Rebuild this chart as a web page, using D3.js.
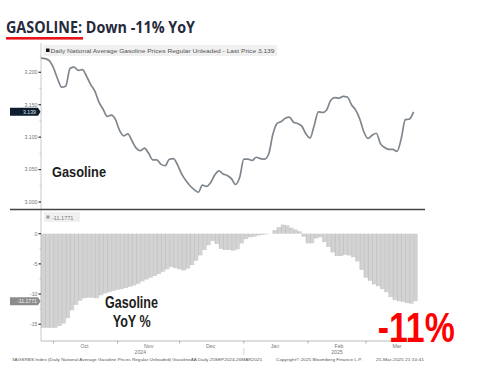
<!DOCTYPE html>
<meta charset="utf-8">
<title>Gasoline: Down -11% YoY</title>
<script src="https://d3js.org/d3.v7.min.js"></script>
<style>
  body { margin: 0; background: #fff; }
  text { font-family: "Liberation Sans", Arial, sans-serif; }
</style>
<div id="chart"></div>
<script>

// price series, one reading every 2 days from 25 Sep 2024
var firstDay = "2024-09-25";
var stepDays = 2;
var price = [
  3.222, 3.221, 3.218, 3.207, 3.190, 3.177, 3.179, 3.206, 3.208, 3.203,
  3.204, 3.194, 3.181, 3.171, 3.154, 3.143, 3.132, 3.134, 3.127, 3.110,
  3.102, 3.105, 3.094, 3.083, 3.079, 3.083, 3.075, 3.065, 3.065, 3.058,
  3.056, 3.066, 3.067, 3.057, 3.043, 3.033, 3.025, 3.019, 3.015, 3.026,
  3.024, 3.030, 3.042, 3.048, 3.043, 3.041, 3.036, 3.027, 3.038, 3.066,
  3.066, 3.064, 3.069, 3.067, 3.066, 3.074, 3.104, 3.121, 3.124, 3.129,
  3.131, 3.123, 3.121, 3.117, 3.105, 3.099, 3.118, 3.139, 3.138, 3.142,
  3.157, 3.161, 3.160, 3.163, 3.162, 3.150, 3.142, 3.128, 3.108, 3.098,
  3.103, 3.106, 3.090, 3.084, 3.081, 3.081, 3.078, 3.097, 3.127, 3.128,
  3.139
];
// year over year change, %
var yoy = [
  -15.6, -15.6, -15.6, -15.6, -15.3, -14.9, -14.0, -12.7, -11.8, -11.1,
  -10.7, -10.6, -10.6, -10.7, -10.2, -9.9, -9.7, -9.5, -9.3, -9.2,
  -9.0, -8.8, -8.6, -8.3, -7.9, -7.6, -7.3, -7.0, -6.7, -6.3,
  -5.9, -5.5, -5.7, -5.9, -6.1, -5.8, -5.2, -4.5, -3.6, -2.7,
  -1.9, -1.2, -1.7, -2.5, -2.7, -2.7, -2.8, -2.6, -1.6, -0.9,
  -0.6, -0.5, -0.3, -0.2, -0.1, 0.0, 0.6, 1.1, 1.5, 1.4,
  1.0, 0.7, 0.4, -0.5, -1.6, -1.6, -0.8, -0.6, -1.4, -2.2,
  -3.1, -3.7, -3.7, -3.5, -3.6, -3.9, -4.6, -6.0, -7.3, -7.8,
  -8.4, -8.7, -9.2, -9.7, -10.5, -11.0, -11.2, -11.3, -11.5, -11.6,
  -11.18
];
var priceTicks = [3.000, 3.050, 3.100, 3.150, 3.200];
var yoyTicks = [0, -5, -10, -15];
var monthLabels = ["Oct", "Nov", "Dec", "Jan", "Feb", "Mar"];
var yearLabels = ["2024", "2025"];
var lastPrice = "3.139";
var lastYoy = "-11.1771";

var parse = d3.timeParse("%Y-%m-%d");
var start = parse(firstDay);
var dates = price.map(function(d, i) { return d3.timeDay.offset(start, i * stepDays); });

var W = 497, H = 375;
var svg = d3.select("#chart").append("svg")
  .attr("width", W).attr("height", H);

// x scale shared by both panels
var x = d3.scaleTime()
  .domain([parse("2024-09-25"), parse("2025-03-26")])
  .range([41, 417.7]);

var yTop = d3.scaleLinear().domain([3.000, 3.200]).range([202, 72.3]);
var yBot = d3.scaleLinear().domain([0, -15]).range([233.7, 324.2]);

// title
svg.append("text")
  .attr("x", 6).attr("y", 33.3)
  .attr("textLength", 189).attr("lengthAdjust", "spacingAndGlyphs")
  .style("font-family", "'Open Sans', 'Liberation Sans', sans-serif")
  .style("font-weight", "bold").style("font-size", "16px")
  .style("fill", "#262a3b")
  .text("GASOLINE: Down -11% YoY");
svg.append("rect")
  .attr("x", 6).attr("y", 37).attr("width", 77).attr("height", 2.6)
  .style("fill", "#e8141c");

// legend boxes
svg.append("rect").attr("x", 43).attr("y", 45).attr("width", 234).attr("height", 11)
  .style("fill", "#f0f0f0");
svg.append("rect").attr("x", 46).attr("y", 48.5).attr("width", 3.5).attr("height", 3.5)
  .style("fill", "#111");
svg.append("text").attr("x", 50.5).attr("y", 52.5)
  .attr("textLength", 224).attr("lengthAdjust", "spacingAndGlyphs")
  .style("font-size", "5.5px").style("fill", "#555")
  .text("Daily National Average Gasoline Prices Regular Unleaded - Last Price " + lastPrice);

svg.append("rect").attr("x", 44).attr("y", 212).attr("width", 36).attr("height", 10)
  .style("fill", "#f0f0f0");
svg.append("rect").attr("x", 46.5).attr("y", 215.5).attr("width", 3).attr("height", 3)
  .style("fill", "#999");
svg.append("text").attr("x", 52).attr("y", 219.5)
  .style("font-size", "5.5px").style("fill", "#777")
  .text(lastYoy);

// y axes
function yAxisLines(scale, y0, y1, ticks, minor, fmt) {
  svg.append("line").attr("x1", 41).attr("x2", 41).attr("y1", y0).attr("y2", y1)
    .style("stroke", "#c4c8cc").style("stroke-width", 1);
  svg.selectAll(null).data(minor).enter().append("line")
    .attr("x1", 39.5).attr("x2", 41)
    .attr("y1", function(d) { return scale(d); })
    .attr("y2", function(d) { return scale(d); })
    .style("stroke", "#bbb").style("stroke-width", 0.8);
  svg.selectAll(null).data(ticks).enter().append("line")
    .attr("x1", 38.5).attr("x2", 41)
    .attr("y1", function(d) { return scale(d); })
    .attr("y2", function(d) { return scale(d); })
    .style("stroke", "#333").style("stroke-width", 1.2);
  svg.selectAll(null).data(ticks).enter().append("text")
    .attr("x", 37.5)
    .attr("y", function(d) { return scale(d) + 1.8; })
    .style("text-anchor", "end").style("font-size", "5.2px").style("fill", "#777")
    .text(fmt);
}
yAxisLines(yTop, 43, 209, priceTicks, [3.025, 3.075, 3.125, 3.175, 3.225], d3.format(",.3f"));
yAxisLines(yBot, 209, 341, yoyTicks, [-2.5, -7.5, -12.5], function(d) { return d; });

// separator between panels
svg.append("line").attr("x1", 10).attr("x2", 425).attr("y1", 209.5).attr("y2", 209.5)
  .style("stroke", "#444").style("stroke-width", 1.6);

// price line
var line = d3.line()
  .x(function(d, i) { return x(dates[i]); })
  .y(function(d) { return yTop(d); })
  .curve(d3.curveMonotoneX);
svg.append("path").datum(price)
  .attr("d", line)
  .style("fill", "none").style("stroke", "#7f868d").style("stroke-width", 1.7);

// yoy bars (no gap, thin darker edge like the daily histogram)
var barW = x(d3.timeDay.offset(start, stepDays)) - x(start);
var bars = svg.selectAll(".bar").data(yoy).enter().append("g").attr("class", "bar");
bars.append("rect")
  .attr("x", function(d, i) { return x(dates[i]); })
  .attr("width", barW + 0.05)
  .attr("y", function(d) { return Math.min(yBot(d), yBot(0)); })
  .attr("height", function(d) { return Math.abs(yBot(d) - yBot(0)); })
  .style("fill", "#d3d3d3");
bars.append("line")
  .attr("x1", function(d, i) { return x(dates[i]) + 0.3; })
  .attr("x2", function(d, i) { return x(dates[i]) + 0.3; })
  .attr("y1", function(d) { return yBot(0); })
  .attr("y2", function(d) { return yBot(d); })
  .style("stroke", "#b9b9b9").style("stroke-width", 0.6);

// last value tags
svg.append("path")
  .attr("d", "M10," + (yTop(3.139) - 4) + "H38L40.5," + yTop(3.139) + "L38," + (yTop(3.139) + 4) + "H10Z")
  .style("fill", "#0f1d30");
svg.append("text").attr("x", 36).attr("y", yTop(3.139) + 1.8)
  .style("text-anchor", "end").style("font-size", "5.2px").style("fill", "#dfe4ea")
  .text(lastPrice);
svg.append("path")
  .attr("d", "M10," + (yBot(-11.1771) - 4) + "H38L40.5," + yBot(-11.1771) + "L38," + (yBot(-11.1771) + 4) + "H10Z")
  .style("fill", "#8c8c8c");
svg.append("text").attr("x", 37).attr("y", yBot(-11.1771) + 1.8)
  .style("text-anchor", "end").style("font-size", "5.2px").style("fill", "#f4f4f4")
  .text(lastYoy);

// x axis
var months = d3.timeMonth.range(parse("2024-10-01"), parse("2025-03-02"));
svg.append("line").attr("x1", 41).attr("x2", 425).attr("y1", 341).attr("y2", 341)
  .style("stroke", "#b8bcc0").style("stroke-width", 1);
svg.selectAll(null).data(months).enter().append("line")
  .attr("x1", function(d) { return x(d); }).attr("x2", function(d) { return x(d); })
  .attr("y1", 341).attr("y2", 343.5)
  .style("stroke", "#999").style("stroke-width", 0.8);
svg.selectAll(null).data(months).enter().append("text")
  .attr("x", function(d) { return x(d3.timeDay.offset(d, 15)); })
  .attr("y", 347.5)
  .style("text-anchor", "middle").style("font-size", "5.2px").style("fill", "#777")
  .text(function(d, i) { return monthLabels[i]; });
svg.selectAll(null).data(yearLabels).enter().append("text")
  .attr("x", function(d, i) { return i === 0 ? x(parse("2024-11-12")) : x(parse("2025-02-15")); })
  .attr("y", 354)
  .style("text-anchor", "middle").style("font-size", "5.2px").style("fill", "#777")
  .text(function(d) { return d; });
svg.append("line")
  .attr("x1", x(parse("2025-01-01"))).attr("x2", x(parse("2025-01-01")))
  .attr("y1", 348).attr("y2", 355)
  .style("stroke", "#ccc").style("stroke-width", 0.8);

// footer
var foot = svg.append("g").style("font-size", "4.3px").style("fill", "#555");
foot.append("text").attr("x", 12).attr("y", 360.5).attr("textLength", 250)
  .attr("lengthAdjust", "spacingAndGlyphs")
  .text("3AGSRBS Index (Daily National Average Gasoline Prices Regular Unleaded) GasolineAA  Daily 25SEP2024-26MAR2025");
foot.append("text").attr("x", 276).attr("y", 360.5).attr("textLength", 86)
  .attr("lengthAdjust", "spacingAndGlyphs")
  .text("Copyright\u00a9 2025 Bloomberg Finance L.P.");
foot.append("text").attr("x", 376).attr("y", 360.5).attr("textLength", 48)
  .attr("lengthAdjust", "spacingAndGlyphs")
  .text("25-Mar-2025 21:10:41");

// big labels
var narrow = "'Liberation Sans Narrow', 'Arial Narrow', 'Liberation Sans', Arial, sans-serif";
svg.append("text").attr("x", 52).attr("y", 176.5)
  .attr("textLength", 54).attr("lengthAdjust", "spacingAndGlyphs")
  .style("font-family", narrow).style("font-weight", "bold").style("font-size", "15.5px")
  .style("fill", "#1c1c1c").text("Gasoline");
svg.append("text").attr("x", 105).attr("y", 308.3)
  .attr("textLength", 53).attr("lengthAdjust", "spacingAndGlyphs")
  .style("font-family", narrow).style("font-weight", "bold").style("font-size", "16px")
  .style("fill", "#1c1c1c").text("Gasoline");
svg.append("text").attr("x", 112.7).attr("y", 326.7)
  .attr("textLength", 38).attr("lengthAdjust", "spacingAndGlyphs")
  .style("font-family", narrow).style("font-weight", "bold").style("font-size", "16px")
  .style("fill", "#1c1c1c").text("YoY %");
svg.append("text").attr("x", 377.7).attr("y", 342.3)
  .attr("textLength", 77).attr("lengthAdjust", "spacingAndGlyphs")
  .style("font-family", narrow).style("font-weight", "bold").style("font-size", "42px")
  .style("fill", "#ff0000").text("-11%");

</script>
